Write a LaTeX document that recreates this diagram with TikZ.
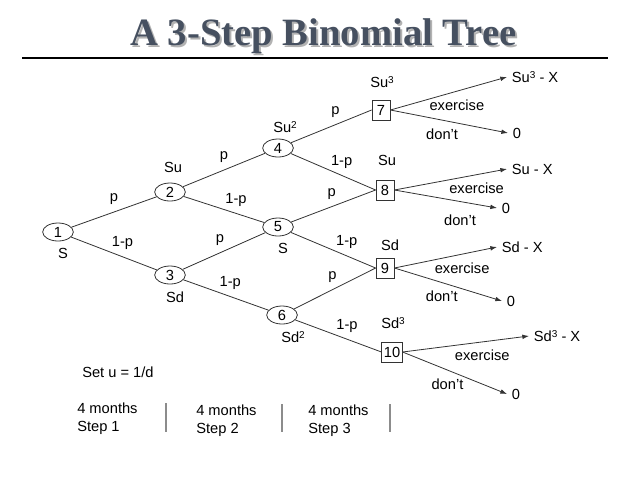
\documentclass[tikz,border=0pt]{standalone}
\usepackage{fontspec}
\setmainfont{Liberation Sans}
\newfontfamily\titlefont{Liberation Serif}
\usepackage{xcolor}
\usetikzlibrary{shapes.geometric, arrows.meta, positioning}
\definecolor{titleblue}{RGB}{70,80,96}
\newcommand{\pw}[1]{\raisebox{0.32em}{\fontsize{7.5}{8}\selectfont #1}}

\begin{document}
\begin{tikzpicture}[
    x=0.75pt, y=-0.75pt,
    font=\fontsize{11}{13.5}\selectfont,
    % Define specific node styles
    state_node/.style={ellipse, draw=black!80, line width=0.6pt, minimum width=23pt, minimum height=13.5pt, inner sep=0pt},
    end_node/.style={rectangle, draw=black!80, line width=0.6pt, minimum width=13.5pt, minimum height=15pt, inner sep=1.5pt},
    price_node/.style={inner sep=1pt},
    payoff_node/.style={anchor=west, inner sep=3.5pt},
    note_node/.style={anchor=west, inner sep=0pt, align=left},
    title_node/.style={anchor=base, font=\titlefont\bfseries\fontsize{29}{32}\selectfont},
    prob_label/.style={above=3pt, inner sep=2pt},
    choice_label/.style={below=4pt, inner sep=2pt},
    branch/.style={draw=black!80, line width=0.6pt},
    arrow/.style={-{Latex[length=5pt, width=3.5pt]}, draw=black!80, line width=0.6pt},
    step_sep/.style={draw=black!45, line width=0.8pt},
]
\useasboundingbox (0,0) rectangle (638,479);

% Title
\node[title_node, text=black!30] (shadow) at (325.5,47) {A 3-Step Binomial Tree};
\node[title_node, text=titleblue] (title) at (323.5,45) {A 3-Step Binomial Tree};
\draw[line width=1pt] (22,58) -- (608,58);

% Nodes of the tree
\node[state_node] (n1) at (58,232) {1};
\node[state_node] (n2) at (170,192) {2};
\node[state_node] (n3) at (170,275) {3};
\node[state_node] (n4) at (278,148) {4};
\node[state_node] (n5) at (278,227) {5};
\node[state_node] (n6) at (282,315) {6};
\node[end_node] (n7) at (381,110) {7};
\node[end_node] (n8) at (385,190) {8};
\node[end_node] (n9) at (385,268) {9};
\node[end_node] (n10) at (392,352) {10};

% Stock prices
\node[price_node] (s1) at (63,253) {S};
\node[price_node] (s2) at (173,167) {Su};
\node[price_node] (s3) at (175,297) {Sd};
\node[price_node] (s4) at (285,127) {Su\pw{2}};
\node[price_node] (s5) at (283,248) {S};
\node[price_node] (s6) at (293,337) {Sd\pw{2}};
\node[price_node] (s7) at (382,82) {Su\pw{3}};
\node[price_node] (s8) at (387,160) {Su};
\node[price_node] (s9) at (390,245) {Sd};
\node[price_node] (s10) at (393,323) {Sd\pw{3}};

% Payoffs
\node[payoff_node] (t7u) at (507,77) {Su\pw{3} - X};
\node[payoff_node] (t7d) at (508,133) {0};
\node[payoff_node] (t8u) at (507,169) {Su - X};
\node[payoff_node] (t8d) at (497,208) {0};
\node[payoff_node] (t9u) at (497,247) {Sd - X};
\node[payoff_node] (t9d) at (502,301) {0};
\node[payoff_node] (t10u) at (529,336) {Sd\pw{3} - X};
\node[payoff_node] (t10d) at (507,394) {0};

% Notes
\node[note_node] (setu) at (82,372) {Set u = 1/d};
\node[note_node] (step1) at (77,419) {4 months\\Step 1};
\node[note_node] (step2) at (196,421) {4 months\\Step 2};
\node[note_node] (step3) at (308,421) {4 months\\Step 3};
\draw[step_sep] (166,403) -- (166,432);
\draw[step_sep] (282,404) -- (282,432);
\draw[step_sep] (390,404) -- (390,432);

% Connections
\draw[branch] (n1) -- node[prob_label, pos=0.5] {p} (n2);
\draw[branch] (n1) -- node[prob_label, pos=0.6] {1-p} (n3);
\draw[branch] (n2) -- node[prob_label, pos=0.5] {p} (n4);
\draw[branch] (n2) -- node[prob_label, pos=0.65] {1-p} (n5);
\draw[branch] (n3) -- node[prob_label, pos=0.45] {p} (n5);
\draw[branch] (n3) -- node[prob_label, pos=0.55] {1-p} (n6);
\draw[branch] (n4) -- node[prob_label, pos=0.55] {p} (n7.west);
\draw[branch] (n4) -- node[prob_label, pos=0.6] {1-p} (n8.west);
\draw[branch] (n5) -- node[prob_label, pos=0.48] {p} (n8.west);
\draw[branch] (n5) -- node[prob_label, pos=0.66] {1-p} (n9.west);
\draw[branch] (n6) -- node[prob_label, pos=0.47] {p} (n9.west);
\draw[branch] (n6) -- node[prob_label, pos=0.6] {1-p} (n10.west);

\draw[arrow] (n7.east) -- node[choice_label, pos=0.57] {exercise} (t7u.west);
\draw[arrow] (n7.east) -- node[choice_label, pos=0.44] {don't} (t7d.west);
\draw[arrow] (n8.east) -- node[choice_label, pos=0.73] {exercise} (t8u.west);
\draw[arrow] (n8.east) -- node[choice_label, below=8pt, pos=0.64] {don't} (t8d.west);
\draw[arrow] (n9.east) -- node[choice_label, pos=0.66] {exercise} (t9u.west);
\draw[arrow] (n9.east) -- node[choice_label, pos=0.44] {don't} (t9d.west);
\draw[arrow] (n10.east) -- node[choice_label, pos=0.63] {exercise} (t10u.west);
\draw[arrow] (n10.east) -- node[choice_label, pos=0.43] {don't} (t10d.west);

\end{tikzpicture}
\end{document}
